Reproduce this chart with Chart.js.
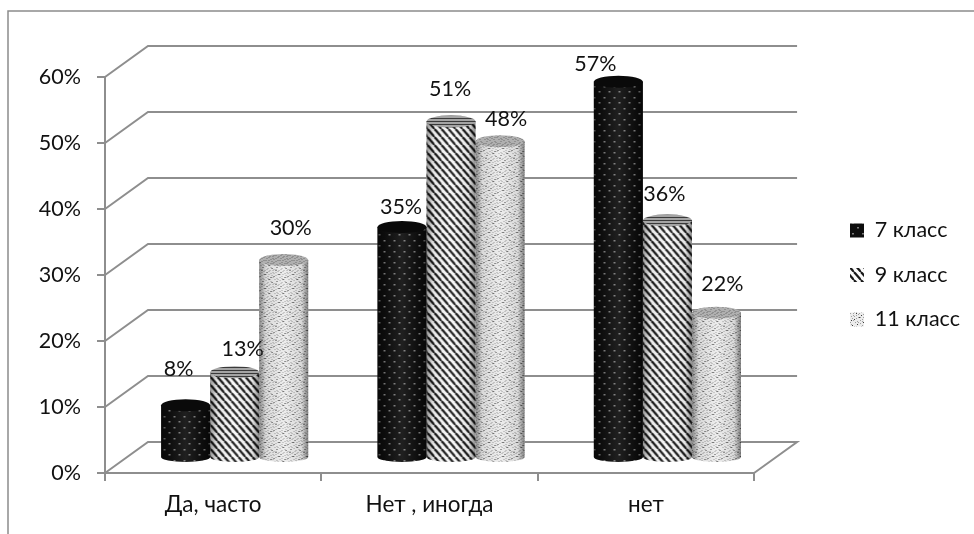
<!DOCTYPE html>
<html>
<head>
<meta charset="utf-8">
<style>
  html, body { margin: 0; padding: 0; background: #fff; }
  #wrap { width: 974px; height: 534px; }
</style>
<script src="https://cdn.jsdelivr.net/npm/chart.js@4"></script>
</head>
<body>
<div id="wrap"><canvas id="chart" width="974" height="534"></canvas></div>
<script>
// Survey answers by school year, percent of respondents
const categories = ['Да, часто', 'Нет , иногда', 'нет'];
const seriesNames = ['7 класс', '9 класс', '11 класс'];
const grade7 = [8, 35, 57];
const grade9 = [13, 51, 36];
const grade11 = [30, 48, 22];
const axisMax = 60;
const axisStep = 10;

// Hand-placed value labels: offset from each cylinder's top centre, per series and category
const labelNudgeX = [[-7, -1, -23], [8, -1, -3], [7, 6, 6]];
const labelNudgeY = [[-36, -20, -18], [-23, -32, -26], [-32, -22, -29]];

const AXIS_GREY = '#8e8e8e';
const FONT = 'Lato, "Open Sans", sans-serif';
const FONT_SIZE = 21.5;
const DEPTH_X = 43, DEPTH_Y = 31;      // receding floor and wall offset
const BAR_SHIFT_X = 21.5, BAR_SHIFT_Y = 15; // cylinders stand in the middle of the floor
const CAP_RY = 6, FOOT_RY = 5;

function tile(w, h, paint) {
  const c = document.createElement('canvas');
  c.width = w; c.height = h;
  paint(c.getContext('2d'));
  return document.createElement('canvas').getContext('2d').createPattern(c, 'repeat');
}

// Dark ground with a staggered grid of faint dots
const darkDots = tile(10, 11, g => {
  g.fillStyle = '#0d0d0d'; g.fillRect(0, 0, 10, 11);
  g.fillStyle = '#7a7a7a'; g.fillRect(2, 2, 2, 1);
  g.fillStyle = '#444'; g.fillRect(2, 3, 2, 1);
  g.fillStyle = '#7a7a7a'; g.fillRect(7, 7, 2, 1);
  g.fillStyle = '#444'; g.fillRect(7, 8, 2, 1);
});
const darkCap = '#0a0a0a';

// Black diagonal stripes on white
const stripes = tile(7, 8, g => {
  g.fillStyle = '#fafafa'; g.fillRect(0, 0, 7, 8);
  g.strokeStyle = '#181818'; g.lineWidth = 2.2;
  [-7, 0, 7].forEach(o => {
    g.beginPath(); g.moveTo(o, 0); g.lineTo(o + 7, 8); g.stroke();
  });
});
const stripeCap = tile(2, 3, g => {
  g.fillStyle = '#a4a4a4'; g.fillRect(0, 0, 2, 3);
  g.fillStyle = '#3a3a3a'; g.fillRect(0, 1, 2, 1);
});

// Pale stipple, dots listed by hand so the tile stays fixed
const stipplePts = [[1,0],[6,1],[10,0],[3,2],[8,3],[12,3],[0,4],[5,5],[10,5],[2,7],[7,7],[13,7],[4,9],[9,9],[12,10],[0,11],[6,12],[11,12],[3,13],[8,13],[4,0],[11,2],[2,4],[7,4],[13,5],[4,6],[9,6],[0,8],[6,9],[11,8],[2,10],[8,11],[13,12]];
const darkFlecks = [[3,2],[12,3],[7,7],[0,11],[11,12],[5,9],[9,0],[2,5]];
const stipple = tile(14, 14, g => {
  g.fillStyle = '#ececec'; g.fillRect(0, 0, 14, 14);
  stipplePts.forEach(p => { g.fillStyle = '#a0a0a0'; g.fillRect(p[0], p[1], 1, 1); });
  darkFlecks.forEach(p => { g.fillStyle = '#3c3c3c'; g.fillRect(p[0], p[1], 1, 1); });
});
const stippleCap = tile(14, 14, g => {
  g.fillStyle = '#b0b0b0'; g.fillRect(0, 0, 14, 14);
  stipplePts.forEach(p => { g.fillStyle = '#707070'; g.fillRect(p[0], p[1], 1, 1); });
});
const capFills = [darkCap, stripeCap, stippleCap];
const sideFills = [darkDots, stripes, stipple];

// Outer frame: only the left and top edges are visible
const framePlugin = {
  id: 'frame',
  beforeDraw(chart) {
    const g = chart.ctx;
    g.save();
    g.strokeStyle = '#8c8c8c'; g.lineWidth = 1.5;
    g.beginPath();
    g.moveTo(8, chart.height); g.lineTo(8, 11); g.lineTo(chart.width, 11);
    g.stroke();
    g.restore();
  }
};

// Back wall lines, the receding edges and the floor's right side
const wallPlugin = {
  id: 'wall',
  beforeDatasetsDraw(chart) {
    const g = chart.ctx, y = chart.scales.y, a = chart.chartArea;
    g.save();
    g.strokeStyle = AXIS_GREY; g.lineWidth = 2; g.lineJoin = 'miter';
    y.ticks.forEach(t => {
      const py = y.getPixelForValue(t.value);
      g.beginPath();
      g.moveTo(a.left, py);
      g.lineTo(a.left + DEPTH_X, py - DEPTH_Y);
      g.lineTo(a.right + DEPTH_X, py - DEPTH_Y);
      if (t.value === 0) g.lineTo(a.right, py);
      g.stroke();
    });
    g.restore();
  }
};

function cylinderPath(g, el) {
  const rx = el.width / 2;
  g.beginPath();
  g.moveTo(el.x - rx, el.y);
  g.lineTo(el.x - rx, el.base);
  g.ellipse(el.x, el.base, rx, FOOT_RY, 0, Math.PI, 0, true);
  g.lineTo(el.x + rx, el.y);
  g.closePath();
}

// The library paints each bar's flat side; this rounds it into a cylinder
const cylinderPlugin = {
  id: 'cylinders',
  beforeDatasetDraw(chart, args) {
    const g = chart.ctx;
    g.save();
    g.translate(BAR_SHIFT_X, -BAR_SHIFT_Y);
    g.fillStyle = sideFills[args.index];
    args.meta.data.forEach(el => {
      g.beginPath();
      g.ellipse(el.x, el.base, el.width / 2, FOOT_RY, 0, 0, Math.PI);
      g.fill();
    });
  },
  afterDatasetDraw(chart, args) {
    const g = chart.ctx;
    args.meta.data.forEach(el => {
      const rx = el.width / 2;
      const shade = g.createLinearGradient(el.x - rx, 0, el.x + rx, 0);
      shade.addColorStop(0, 'rgba(0,0,0,0.42)');
      shade.addColorStop(0.14, 'rgba(0,0,0,0.08)');
      shade.addColorStop(0.5, 'rgba(255,255,255,0.08)');
      shade.addColorStop(0.86, 'rgba(0,0,0,0.08)');
      shade.addColorStop(1, 'rgba(0,0,0,0.46)');
      cylinderPath(g, el);
      g.fillStyle = shade;
      g.fill();
      g.beginPath();
      g.ellipse(el.x, el.y, rx, CAP_RY, 0, 0, Math.PI * 2);
      g.fillStyle = capFills[args.index];
      g.fill();
    });
    g.restore();
  }
};

// Value labels above the cylinders
const valueLabelPlugin = {
  id: 'valueLabels',
  afterDatasetsDraw(chart) {
    const g = chart.ctx;
    g.save();
    g.font = FONT_SIZE + 'px ' + FONT;
    g.fillStyle = '#111';
    g.textAlign = 'center';
    g.textBaseline = 'middle';
    chart.data.datasets.forEach((ds, i) => {
      chart.getDatasetMeta(i).data.forEach((el, j) => {
        g.fillText(ds.data[j] + '%',
          el.x + BAR_SHIFT_X + labelNudgeX[i][j],
          el.y - BAR_SHIFT_Y + labelNudgeY[i][j]);
      });
    });
    g.restore();
  }
};

// Slide the legend away from the plot, into the right margin
const legendPlacePlugin = {
  id: 'legendPlace',
  afterLayout(chart) {
    const l = chart.legend;
    const w = l.right - l.left;
    l.left = 827; l.right = l.left + w;
    l.top = 0; l.bottom = 550;
  }
};

new Chart(document.getElementById('chart'), {
  type: 'bar',
  data: {
    labels: categories,
    datasets: [
      { label: seriesNames[0], data: grade7, backgroundColor: darkDots },
      { label: seriesNames[1], data: grade9, backgroundColor: stripes },
      { label: seriesNames[2], data: grade11, backgroundColor: stipple }
    ]
  },
  plugins: [framePlugin, wallPlugin, cylinderPlugin, valueLabelPlugin, legendPlacePlugin],
  options: {
    responsive: false,
    animation: false,
    events: [],
    layout: { padding: { top: 77, left: 0, right: 77, bottom: 0 } },
    datasets: { bar: { categoryPercentage: 0.68, barPercentage: 1, borderWidth: 0 } },
    plugins: {
      tooltip: { enabled: false },
      title: { display: false },
      legend: {
        position: 'right',
        labels: {
          boxWidth: 14, boxHeight: 14, padding: 23, color: '#111',
          font: { family: FONT, size: FONT_SIZE }
        }
      }
    },
    scales: {
      x: {
        afterFit(s) { s.height = 61; },
        grid: { drawOnChartArea: false, color: AXIS_GREY, lineWidth: 2, tickLength: 8 },
        border: { color: AXIS_GREY, width: 2 },
        ticks: { color: '#111', padding: 10, font: { family: FONT, size: 22.5 }, maxRotation: 0 }
      },
      y: {
        min: 0, max: axisMax,
        afterFit(s) { s.width = 105; },
        grid: { drawOnChartArea: false, color: AXIS_GREY, lineWidth: 2, tickLength: 8 },
        border: { color: AXIS_GREY, width: 2 },
        ticks: {
          stepSize: axisStep, color: '#111', padding: 16,
          font: { family: FONT, size: FONT_SIZE },
          callback: v => v + '%'
        }
      }
    }
  }
});
</script>
</body>
</html>
